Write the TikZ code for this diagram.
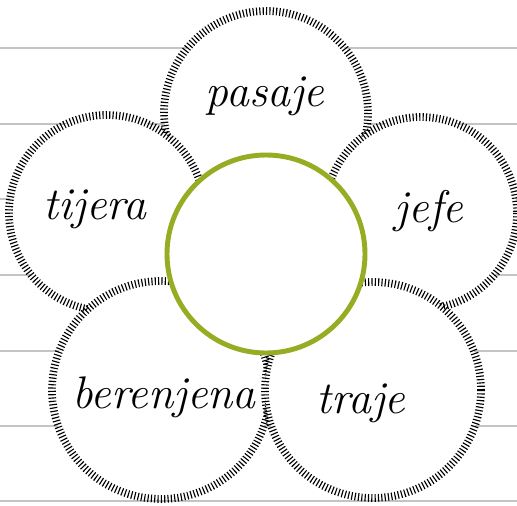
\documentclass[tikz,border=0pt]{standalone}
\usepackage{xcolor}
\usepackage{tikz}
\definecolor{leafgreen}{HTML}{97AC22}
\definecolor{linegray}{HTML}{C4C4C8}

\begin{document}
\begin{tikzpicture}[
  x=0.02cm, y=-0.02cm,
  rule/.style={draw=linegray, line width=1.2pt},
  petal/.style={draw=black, fill=white, line width=4.4pt, dash pattern=on 0.65pt off 1.25pt},
  core/.style={draw=leafgreen, fill=white, line width=2.8pt},
  word/.style={font=\fontsize{26}{26}\selectfont\itshape, anchor=base, inner sep=0pt}
]
\useasboundingbox (0,0) rectangle (517,506);
% lined paper
\foreach \y in {48,124,199,275,351,426,501}
  \draw[rule] (0,\y) -- (517,\y);
% petals, each one laid over the ones before
\foreach \cx/\cy/\r in {266/113/102, 107/213/98, 421/213/96, 161/390/109, 373/390/108}
  \draw[petal] (\cx,\cy) circle (\r);
% centre
\draw[core] (266,254) circle (99);
% words
\node[word] (pasaje) at (265,107) {pasaje};
\node[word] (tijera) at (95,220) {tijera};
\node[word] (jefe) at (429,223) {jefe};
\node[word] (berenjena) at (164,408) {berenjena};
\node[word] (traje) at (361,413) {traje};
\end{tikzpicture}
\end{document}
